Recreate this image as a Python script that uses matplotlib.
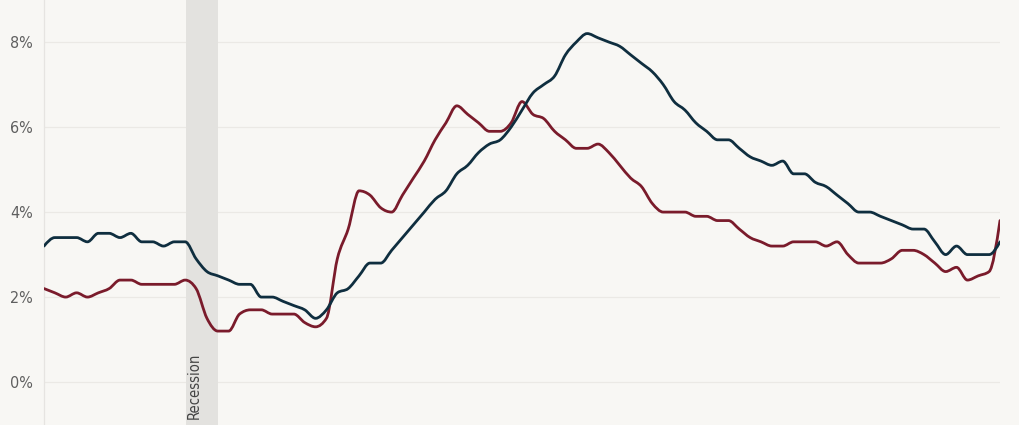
"""Two rate series with a recession band, smoothed monotone lines."""
import matplotlib
matplotlib.use("Agg")
import matplotlib.pyplot as plt
import numpy as np
from matplotlib.path import Path
from matplotlib.patches import PathPatch

plt.rcParams["font.family"] = ["DejaVu Sans"]
plt.rcParams["font.stretch"] = "condensed"

# values, one per period
NAVY = [3.2, 3.4, 3.4, 3.4, 3.3, 3.5, 3.5, 3.4, 3.5, 3.3,
        3.3, 3.2, 3.3, 3.3, 2.9, 2.6, 2.5, 2.4, 2.3, 2.3,
        2.0, 2.0, 1.9, 1.8, 1.7, 1.5, 1.7, 2.1, 2.2, 2.5,
        2.8, 2.8, 3.1, 3.4, 3.7, 4.0, 4.3, 4.5, 4.9, 5.1,
        5.4, 5.6, 5.7, 6.0, 6.4, 6.8, 7.0, 7.2, 7.7, 8.0,
        8.2, 8.1, 8.0, 7.9, 7.7, 7.5, 7.3, 7.0, 6.6, 6.4,
        6.1, 5.9, 5.7, 5.7, 5.5, 5.3, 5.2, 5.1, 5.2, 4.9,
        4.9, 4.7, 4.6, 4.4, 4.2, 4.0, 4.0, 3.9, 3.8, 3.7,
        3.6, 3.6, 3.3, 3.0, 3.2, 3.0, 3.0, 3.0, 3.3]
RED = [2.2, 2.1, 2.0, 2.1, 2.0, 2.1, 2.2, 2.4, 2.4, 2.3,
       2.3, 2.3, 2.3, 2.4, 2.2, 1.5, 1.2, 1.2, 1.6, 1.7,
       1.7, 1.6, 1.6, 1.6, 1.4, 1.3, 1.5, 2.9, 3.6, 4.5,
       4.4, 4.1, 4.0, 4.4, 4.8, 5.2, 5.7, 6.1, 6.5, 6.3,
       6.1, 5.9, 5.9, 6.1, 6.6, 6.3, 6.2, 5.9, 5.7, 5.5,
       5.5, 5.6, 5.4, 5.1, 4.8, 4.6, 4.2, 4.0, 4.0, 4.0,
       3.9, 3.9, 3.8, 3.8, 3.6, 3.4, 3.3, 3.2, 3.2, 3.3,
       3.3, 3.3, 3.2, 3.3, 3.0, 2.8, 2.8, 2.8, 2.9, 3.1,
       3.1, 3.0, 2.8, 2.6, 2.7, 2.4, 2.5, 2.6, 3.8]
RECESSION = (13.1, 16.0)           # in period units
Y_TICKS = [0, 2, 4, 6, 8]

BG = "#f8f7f4"
NAVY_C = "#0f2e3f"
RED_C = "#7a1b2b"


def monotone_path(x, y):
    """Bezier path like d3.curveMonotoneX."""
    x = np.asarray(x, float)
    y = np.asarray(y, float)
    n = len(x)
    h = np.diff(x)
    s = np.diff(y) / h
    t = np.zeros(n)
    for i in range(1, n - 1):
        p = (s[i - 1] * h[i] + s[i] * h[i - 1]) / (h[i - 1] + h[i])
        t[i] = (np.sign(s[i - 1]) + np.sign(s[i])) * min(abs(s[i - 1]), abs(s[i]), 0.5 * abs(p))
    t[0] = (3 * s[0] - t[1]) / 2
    t[-1] = (3 * s[-1] - t[-2]) / 2
    verts = [(x[0], y[0])]
    codes = [Path.MOVETO]
    for i in range(n - 1):
        dx = (x[i + 1] - x[i]) / 3
        verts += [(x[i] + dx, y[i] + dx * t[i]),
                  (x[i + 1] - dx, y[i + 1] - dx * t[i + 1]),
                  (x[i + 1], y[i + 1])]
        codes += [Path.CURVE4] * 3
    return Path(verts, codes)


fig = plt.figure(figsize=(10.2, 4.25), dpi=100, facecolor=BG)
ax = fig.add_axes([44 / 1020, 0, 956 / 1020, 1], facecolor=BG)

xs = np.arange(len(NAVY))
ax.set_xlim(0, len(NAVY) - 1)
ax.set_ylim(-1.01, 8.99)

for v in Y_TICKS:
    ax.axhline(v, color="#ebe9e5", lw=0.9, zorder=0)

ax.axvspan(*RECESSION, color="#e3e2df", lw=0, zorder=1)
ax.text(RECESSION[0] + 0.75, -0.86, "Recession", rotation=90, ha="center", va="bottom",
        fontsize=10.5, color="#444444", zorder=2)

for vals, col in [(RED, RED_C), (NAVY, NAVY_C)]:
    ax.add_patch(PathPatch(monotone_path(xs, vals), fill=False, edgecolor=col,
                           lw=2.0, capstyle="round", joinstyle="round", zorder=3))

ax.set_yticks(Y_TICKS)
ax.set_yticklabels([f"{v}%" for v in Y_TICKS])
ax.tick_params(axis="y", length=0, pad=8, labelsize=11.5, labelcolor="#5f5f5f")
ax.set_xticks([])
for side in ["top", "right", "bottom"]:
    ax.spines[side].set_visible(False)
ax.spines["left"].set_color("#e6e4e1")
ax.spines["left"].set_linewidth(0.9)

fig.savefig("out.png", dpi=100, facecolor=BG)
